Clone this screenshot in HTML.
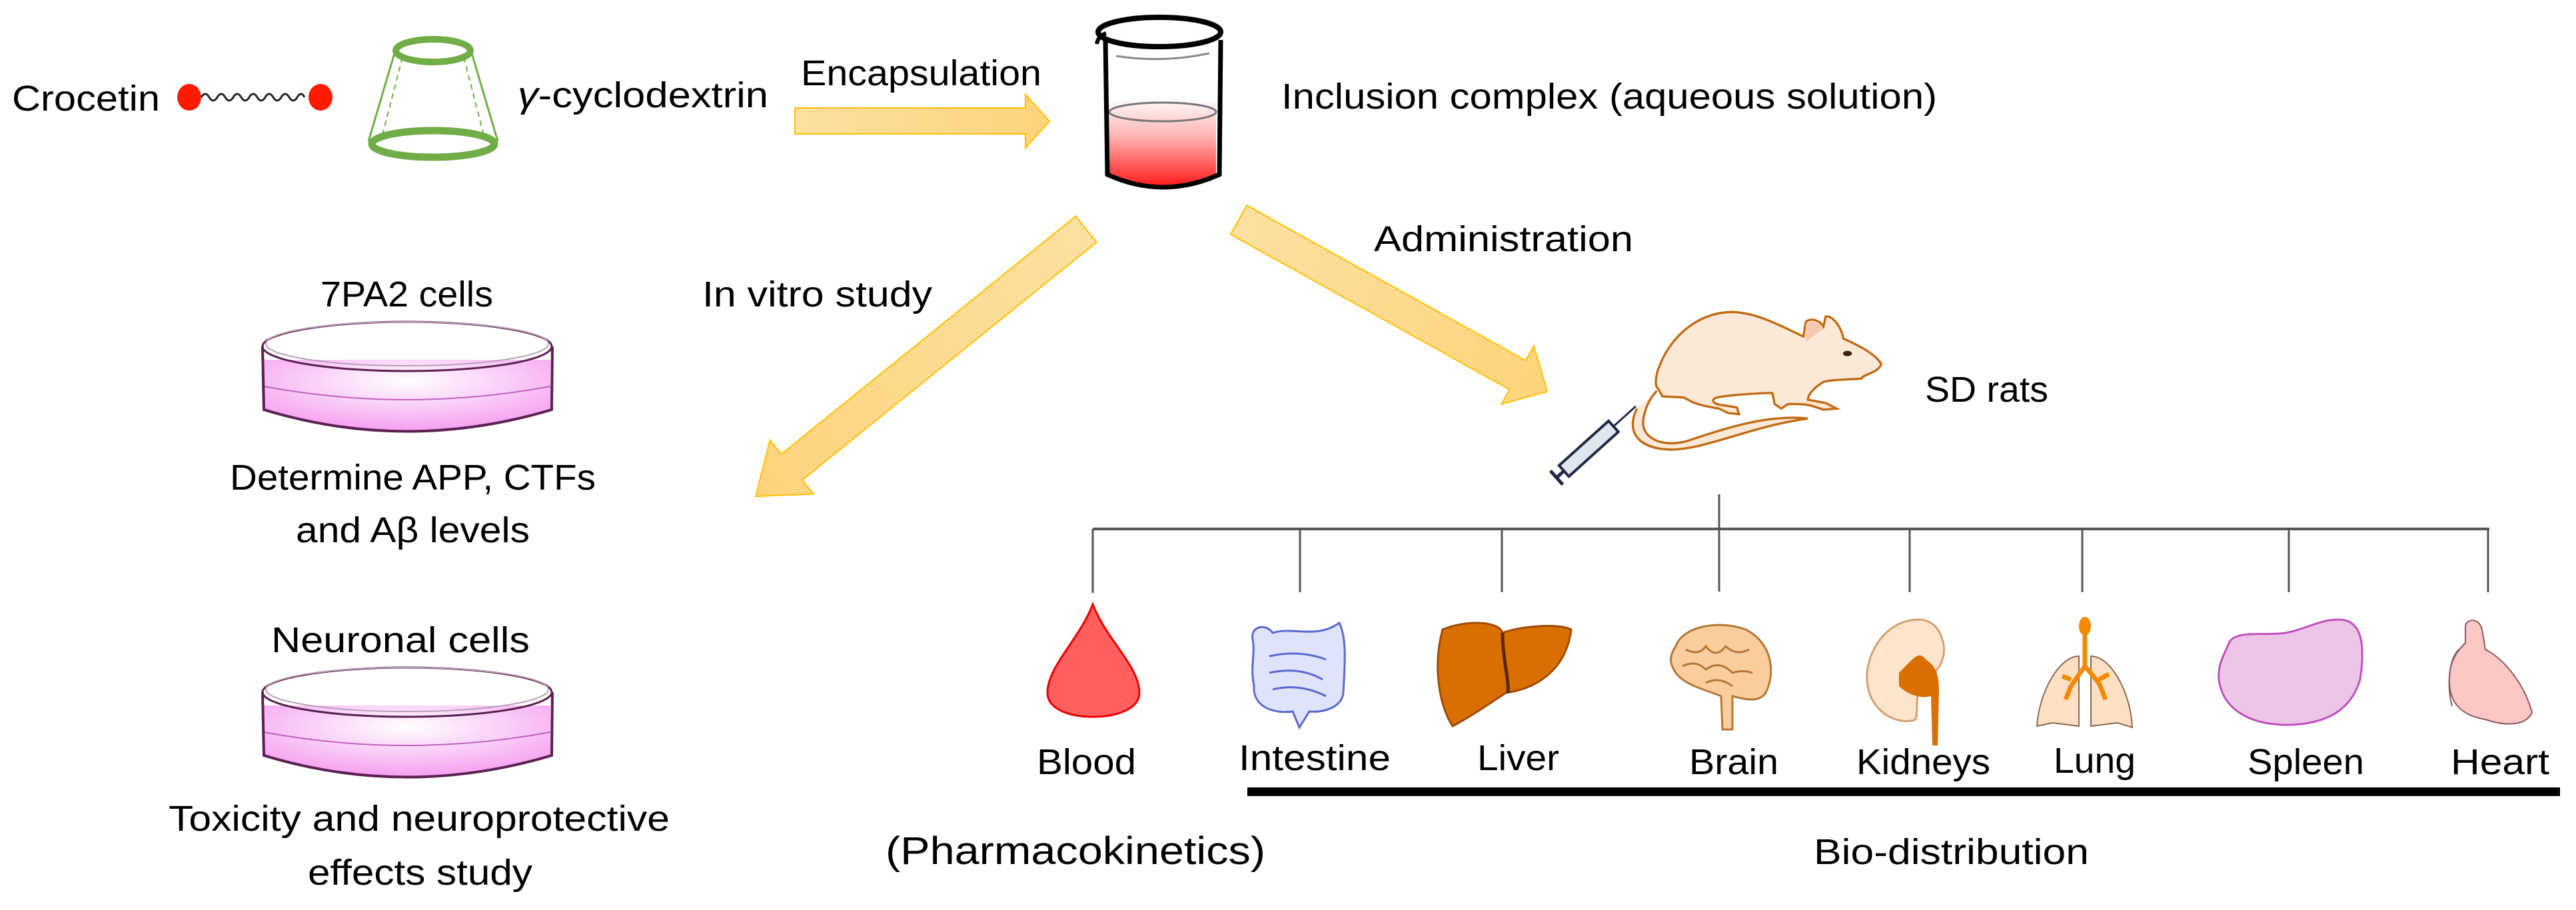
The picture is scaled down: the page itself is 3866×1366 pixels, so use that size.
<!DOCTYPE html>
<html><head><meta charset="utf-8"><style>
html,body{margin:0;padding:0;background:#fff;}
svg{display:block;}
text{font-family:"Liberation Sans",sans-serif;font-size:54px;fill:#000;}
</style></head><body>
<svg width="3866" height="1366" viewBox="0 0 3866 1366" xmlns="http://www.w3.org/2000/svg">
<defs>
<linearGradient id="ar" x1="0" y1="0" x2="1" y2="0"><stop offset="0" stop-color="#fde0a0"/><stop offset="1" stop-color="#fdd47c"/></linearGradient>
<linearGradient id="red" x1="0" y1="0" x2="0" y2="1"><stop offset="0" stop-color="#fff"/><stop offset="0.45" stop-color="#ffb0b0"/><stop offset="1" stop-color="#ff1a1a"/></linearGradient>
<radialGradient id="pink" cx="0.5" cy="0.3" r="0.7"><stop offset="0" stop-color="#fff"/><stop offset="1" stop-color="#f59ef0"/></radialGradient>
</defs>

<!-- top row -->
<text x="18" y="166" textLength="222" lengthAdjust="spacingAndGlyphs">Crocetin</text>
<ellipse cx="284" cy="146" rx="18" ry="20" fill="#ff1a00"/>
<ellipse cx="481" cy="146" rx="18" ry="20" fill="#ff1a00"/>
<path d="M302,146 q6,-10 12,0 t12,0 t12,0 t12,0 t12,0 t12,0 t12,0 t12,0 t12,0 t12,0 t12,0 t12,0 t11,0" fill="none" stroke="#222" stroke-width="3"/>
<!-- cyclodextrin -->
<line x1="592" y1="80" x2="553" y2="212" stroke="#70ad47" stroke-width="3"/>
<line x1="708" y1="80" x2="747" y2="212" stroke="#70ad47" stroke-width="3"/>
<line x1="604" y1="86" x2="572" y2="210" stroke="#70ad47" stroke-width="2" stroke-dasharray="8,6"/>
<line x1="696" y1="86" x2="728" y2="210" stroke="#70ad47" stroke-width="2" stroke-dasharray="8,6"/>
<ellipse cx="650" cy="76" rx="56" ry="17" fill="none" stroke="#70ad47" stroke-width="10"/>
<ellipse cx="650" cy="216" rx="92" ry="20" fill="none" stroke="#70ad47" stroke-width="11"/>
<text x="777" y="161" textLength="376" lengthAdjust="spacingAndGlyphs"><tspan font-style="italic">γ</tspan>-cyclodextrin</text>
<text x="1202" y="128" textLength="361" lengthAdjust="spacingAndGlyphs">Encapsulation</text>
<!-- encapsulation arrow -->
<polygon points="1193,162 1539,162 1539,142 1575,182 1539,222 1539,201 1193,201" fill="url(#ar)" stroke="#ffc000" stroke-width="2"/>
<!-- beaker -->
<path d="M1664,153 Q1745,140 1825,153 L1825,265 Q1745,295 1664,265 Z" fill="url(#red)"/>
<ellipse cx="1745" cy="168" rx="80" ry="14" fill="none" stroke="#777" stroke-width="3"/>
<path d="M1659,60 L1662,262 Q1745,300 1830,262 L1832,60" fill="none" stroke="#000" stroke-width="7"/>
<ellipse cx="1740" cy="48" rx="92" ry="22" fill="#fff" stroke="#000" stroke-width="8"/>
<path d="M1646,66 Q1648,54 1660,50" fill="none" stroke="#000" stroke-width="6"/>
<path d="M1675,84 Q1745,95 1815,80" fill="none" stroke="#888" stroke-width="3"/>
<text x="1923" y="163" textLength="984" lengthAdjust="spacingAndGlyphs">Inclusion complex (aqueous solution)</text>

<!-- in vitro arrow -->
<g transform="translate(1630,344) rotate(141.04)">
<polygon points="0,-25 568,-25 568,-52 638,0 568,52 568,25 0,25" fill="url(#ar)" stroke="#ffc000" stroke-width="2"/>
</g>
<!-- administration arrow -->
<g transform="translate(1859,330) rotate(29.1)">
<polygon points="0,-25 479,-25 479,-50 530,0 479,50 479,25 0,25" fill="url(#ar)" stroke="#ffc000" stroke-width="2"/>
</g>
<text x="2062" y="377" textLength="389" lengthAdjust="spacingAndGlyphs">Administration</text>
<text x="1054" y="460" textLength="345" lengthAdjust="spacingAndGlyphs">In vitro study</text>
<text x="481" y="460" textLength="259" lengthAdjust="spacingAndGlyphs">7PA2 cells</text>

<!-- rat -->
<g transform="translate(2420,440) scale(0.3333)">
<path d="M110,520 C60,620 110,700 260,705 C420,705 620,600 880,565 C700,545 500,610 340,665 C220,700 120,650 140,560 C150,510 170,470 200,440" fill="#fbe8d6" stroke="#c06a12" stroke-width="10"/>
<path d="M200,360 C250,200 380,90 530,85 C650,85 760,150 860,195 L870,130 C890,110 930,120 950,150 L960,105 C990,100 1030,150 1040,205 C1120,240 1190,280 1210,320 C1200,350 1160,360 1130,375 L1120,385 C1050,390 980,390 950,400 C900,430 880,460 880,480 L960,495 L1010,520 L950,525 L905,510 C860,495 800,500 790,500 L760,520 L730,500 L720,450 C650,450 520,460 470,470 C440,480 450,500 500,505 L560,515 L570,545 L520,540 L480,520 C420,510 370,500 340,480 L320,470 L225,465 L205,430 C190,420 195,390 200,360 Z" fill="#fbe8d6" stroke="#c06a12" stroke-width="10"/>
<path d="M870,140 C890,120 930,130 950,160 L870,220 Z" fill="#f6c9b0"/>
<ellipse cx="1058" cy="272" rx="20" ry="12" fill="#3a2010"/>
</g>
<!-- syringe -->
<g transform="translate(2336,717) rotate(-42)">
<rect x="15" y="-11" width="100" height="22" fill="#dfe6ee" stroke="#1f2a44" stroke-width="4"/>
<line x1="0" y1="0" x2="15" y2="0" stroke="#1f2a44" stroke-width="5"/>
<line x1="0" y1="-14" x2="0" y2="14" stroke="#1f2a44" stroke-width="5"/>
<line x1="115" y1="0" x2="160" y2="0" stroke="#1f2a44" stroke-width="3"/>
</g>
<text x="2889" y="603" textLength="185" lengthAdjust="spacingAndGlyphs">SD rats</text>

<!-- dishes -->
<g id="dish">
<path d="M396,540 L396,615 Q610,680 826,615 L826,540 Z" fill="url(#pink)"/>
<path d="M396,580 Q610,620 826,580" fill="none" stroke="#c060c0" stroke-width="2"/>
<path d="M394,520 L396,615 Q610,680 828,615 L829,520" fill="none" stroke="#5a2050" stroke-width="4"/>
<ellipse cx="611" cy="520" rx="217" ry="37" fill="none" stroke="#5a2050" stroke-width="3"/>
<ellipse cx="611" cy="516" rx="212" ry="33" fill="none" stroke="#b8a0b8" stroke-width="2"/>
</g>
<use href="#dish" transform="translate(0,519)"/>
<text x="345" y="735" textLength="549" lengthAdjust="spacingAndGlyphs">Determine APP, CTFs</text>
<text x="444" y="814" textLength="351" lengthAdjust="spacingAndGlyphs">and Aβ levels</text>
<text x="407" y="979" textLength="388" lengthAdjust="spacingAndGlyphs">Neuronal  cells</text>
<text x="253" y="1247" textLength="752" lengthAdjust="spacingAndGlyphs">Toxicity and neuroprotective</text>
<text x="462" y="1328" textLength="337" lengthAdjust="spacingAndGlyphs">effects study</text>

<!-- tree -->
<g stroke="#555" stroke-width="3" fill="none">
<line x1="1640" y1="794" x2="3736" y2="794" stroke-width="4"/>
<line x1="2580" y1="742" x2="2580" y2="888"/>
<line x1="1640" y1="794" x2="1640" y2="890"/>
<line x1="1951" y1="794" x2="1951" y2="889"/>
<line x1="2254" y1="794" x2="2254" y2="889"/>
<line x1="2866" y1="794" x2="2866" y2="889"/>
<line x1="3125" y1="794" x2="3125" y2="889"/>
<line x1="3435" y1="794" x2="3435" y2="889"/>
<line x1="3734" y1="794" x2="3734" y2="889"/>
</g>

<!-- blood -->
<path d="M1640,907 C1620,960 1572,1000 1572,1040 C1572,1064 1604,1076 1640,1076 C1676,1076 1710,1064 1710,1040 C1710,1000 1660,960 1640,907 Z" fill="#ff5f5f" stroke="#ee0000" stroke-width="3"/>
<!-- intestine -->
<path d="M1880,960 C1876,940 1900,935 1910,950 C1940,940 1975,960 2010,935 C2022,960 2018,1000 2016,1040 C2014,1060 1990,1070 1965,1068 L1950,1092 L1940,1068 C1910,1072 1880,1060 1882,1030 C1876,1000 1884,980 1880,960 Z" fill="#dfe3fb" stroke="#5a6ad0" stroke-width="3"/>
<path d="M1905,985 Q1950,975 1990,990 M1905,1010 Q1950,1000 1985,1020 M1910,1035 Q1950,1025 1990,1045" fill="none" stroke="#5a6ad0" stroke-width="3"/>
<!-- liver -->
<path d="M2165,945 C2200,930 2250,932 2255,950 C2280,940 2340,935 2358,945 C2350,1010 2300,1035 2260,1040 C2230,1060 2200,1080 2180,1090 C2160,1060 2150,1000 2165,945 Z" fill="#d96f00" stroke="#a04c00" stroke-width="3"/>
<path d="M2255,950 C2255,990 2265,1020 2263,1040" fill="none" stroke="#5a2800" stroke-width="5"/>
<!-- brain -->
<path d="M2515,970 C2525,940 2580,930 2620,945 C2660,965 2665,1010 2650,1040 C2640,1055 2620,1050 2600,1045 L2600,1095 L2585,1095 L2583,1045 C2560,1035 2530,1030 2515,1010 C2505,995 2505,985 2515,970 Z" fill="#f9cd9c" stroke="#b57838" stroke-width="3"/>
<path d="M2530,975 q20,10 30,-5 q15,20 30,0 q15,15 35,5 M2525,1000 q20,-10 35,5 q20,-15 40,5 q15,-5 30,0 M2560,1025 q20,-10 40,5" fill="none" stroke="#b57838" stroke-width="3"/>
<!-- kidney -->
<path d="M2880,930 C2830,930 2800,980 2802,1020 C2804,1070 2850,1090 2875,1080 C2880,1060 2872,1045 2885,1030 C2905,1010 2925,990 2915,960 C2910,940 2895,930 2880,930 Z" fill="#fde5cc" stroke="#d4a070" stroke-width="3"/>
<path d="M2850,1010 C2870,990 2880,975 2890,990 C2905,1000 2910,1010 2910,1040 L2908,1119 L2900,1119 L2898,1045 C2880,1050 2860,1040 2850,1030 Z" fill="#d96f00"/>
<!-- lung -->
<path d="M3120,985 C3090,985 3060,1040 3057,1090 L3080,1085 L3120,1090 Z" fill="#fde0c4" stroke="#8a6a50" stroke-width="2"/>
<path d="M3138,985 C3168,985 3198,1040 3200,1092 L3178,1085 L3138,1090 Z" fill="#fde0c4" stroke="#8a6a50" stroke-width="2"/>
<path d="M3129,935 L3129,1000 M3129,1000 L3108,1030 L3100,1050 M3129,1000 L3150,1025 L3160,1050 M3108,1020 L3095,1015 M3150,1020 L3165,1012" fill="none" stroke="#f28a00" stroke-width="7"/>
<ellipse cx="3129" cy="940" rx="9" ry="14" fill="#f28a00"/>
<!-- spleen -->
<path d="M3510,930 C3550,930 3548,980 3542,1020 C3530,1060 3500,1085 3440,1088 C3370,1090 3335,1060 3330,1020 C3328,995 3340,980 3345,965 C3355,945 3400,955 3430,950 C3460,945 3480,930 3510,930 Z" fill="#edc5e6" stroke="#c050c0" stroke-width="3"/>
<!-- heart -->
<path d="M3700,940 C3700,930 3720,925 3725,945 L3730,975 C3760,990 3790,1030 3800,1070 C3790,1090 3760,1090 3730,1080 C3700,1075 3675,1060 3676,1020 C3676,990 3690,975 3700,965 Z" fill="#fcc8c6" stroke="#8a5a5a" stroke-width="2"/>
<path d="M3690,975 C3675,990 3672,1030 3680,1060" fill="none" stroke="#8a5a5a" stroke-width="2"/>

<!-- labels -->
<text x="1556" y="1162" textLength="149" lengthAdjust="spacingAndGlyphs">Blood</text>
<text x="1859" y="1156" textLength="228" lengthAdjust="spacingAndGlyphs">Intestine</text>
<text x="2217" y="1156" textLength="123" lengthAdjust="spacingAndGlyphs">Liver</text>
<text x="2535" y="1162" textLength="134" lengthAdjust="spacingAndGlyphs">Brain</text>
<text x="2786" y="1162" textLength="201" lengthAdjust="spacingAndGlyphs">Kidneys</text>
<text x="3082" y="1160" textLength="123" lengthAdjust="spacingAndGlyphs">Lung</text>
<text x="3373" y="1162" textLength="175" lengthAdjust="spacingAndGlyphs">Spleen</text>
<text x="3678" y="1162" textLength="148" lengthAdjust="spacingAndGlyphs">Heart</text>
<rect x="1872" y="1182" width="1970" height="13" fill="#000"/>
<text x="1329" y="1297" textLength="570" lengthAdjust="spacingAndGlyphs" style="font-size:58px">(Pharmacokinetics)</text>
<text x="2722" y="1297" textLength="413" lengthAdjust="spacingAndGlyphs">Bio-distribution</text>
</svg>
</body></html>
